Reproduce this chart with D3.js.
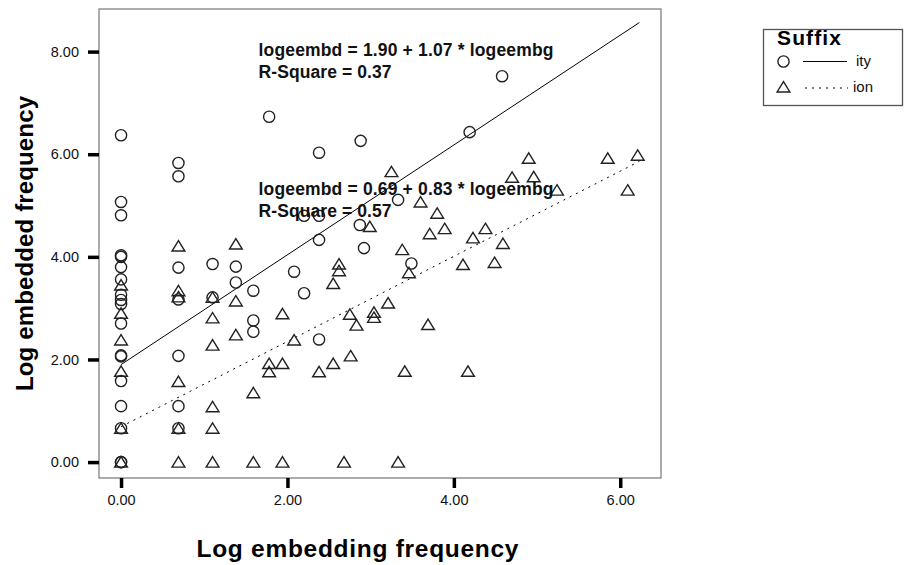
<!DOCTYPE html>
<html lang="en">
<head>
<meta charset="utf-8">
<title>Log embedded vs embedding frequency</title>
<script src="https://cdn.jsdelivr.net/npm/d3@7"></script>
<style>
    body { margin: 0; background: #fff; }
    svg { display: block; font-family: "Liberation Sans", Arial, Helvetica, sans-serif; }
</style>
</head>
<body>
<svg id="chart" width="904" height="565"></svg>
<script>
// suffix -ity (circles)
var ityX = [0, 0, 0, 0, 0, 0, 0, 0, 0, 0, 0, 0, 0, 0, 0, 0, 0, 0,
    0.69, 0.69, 0.69, 0.69, 0.69, 0.69, 0.69, 1.10, 1.10, 1.38, 1.38, 1.59, 1.59, 1.59,
    1.78, 2.08, 2.20, 2.20, 2.38, 2.38, 2.38, 2.38, 2.88, 2.87, 2.92, 3.33, 3.49, 4.19, 4.58]
var ityY = [6.37, 5.07, 4.81, 4.03, 4.00, 3.80, 3.56, 3.26, 3.16, 3.08, 2.70, 2.08, 2.06, 1.58, 1.09, 0.66, 0, 0,
    5.83, 5.57, 3.79, 3.17, 2.07, 1.09, 0.66, 3.86, 3.21, 3.81, 3.50, 3.34, 2.76, 2.54,
    6.73, 3.71, 4.80, 3.29, 6.03, 4.80, 4.33, 2.39, 6.26, 4.62, 4.17, 5.11, 3.87, 6.43, 7.52]

// suffix -ion (triangles)
var ionX = [0, 0, 0, 0, 0, 0, 0.69, 0.69, 0.69, 0.69, 0.69, 0.69, 1.10, 1.10, 1.10, 1.10, 1.10, 1.10,
    1.38, 1.38, 1.38, 1.59, 1.59, 1.78, 1.78, 1.94, 1.94, 1.94, 2.08, 2.38, 2.55, 2.55, 2.62, 2.62,
    2.68, 2.75, 2.76, 2.83, 2.99, 3.04, 3.04, 3.21, 3.25, 3.33, 3.38, 3.41, 3.46, 3.60, 3.69, 3.71,
    3.80, 3.89, 4.11, 4.17, 4.23, 4.38, 4.49, 4.59, 4.70, 4.90, 4.96, 5.24, 5.85, 6.09, 6.21]
var ionY = [3.45, 2.90, 2.38, 1.77, 0.66, 0, 4.21, 3.34, 3.22, 1.57, 0.66, 0, 3.21, 2.81, 2.28, 1.08, 0.66, 0,
    4.25, 3.14, 2.48, 1.35, 0, 1.92, 1.76, 2.89, 1.92, 0, 2.38, 1.76, 3.48, 1.92, 3.86, 3.73,
    0, 2.88, 2.07, 2.67, 4.59, 2.92, 2.82, 3.10, 5.66, 0, 4.14, 1.77, 3.69, 5.07, 2.68, 4.45,
    4.85, 4.55, 3.85, 1.77, 4.37, 4.55, 3.89, 4.26, 5.55, 5.92, 5.56, 5.30, 5.92, 5.30, 5.98]

// fits: [intercept, slope], r-square
var fitIty = [1.90, 1.07]
var fitIon = [0.69, 0.83]
var rSquare = [0.37, 0.57]
var suffixes = ["ity", "ion"]
var xTicks = [0, 2, 4, 6]
var yTicks = [0, 2, 4, 6, 8]

var svg = d3.select("#chart")
var ink = "#222"

var x = d3.scaleLinear().domain([-0.265, 6.49]).range([99, 661])
var y = d3.scaleLinear().domain([-0.31, 8.83]).range([478, 9])

// frame
svg.append("rect").attr("x", 99).attr("y", 9).attr("width", 562).attr("height", 469)
    .attr("fill", "none").attr("stroke", "#808080").attr("stroke-width", 1.3)

// axes
var fmt = d3.format(".2f")
var yAxis = svg.append("g").attr("transform", "translate(99,0)")
    .call(d3.axisLeft(y).tickValues(yTicks).tickFormat(fmt).tickSize(11).tickPadding(9))
var xAxis = svg.append("g").attr("transform", "translate(0,478)")
    .call(d3.axisBottom(x).tickValues(xTicks).tickFormat(fmt).tickSize(10).tickPadding(7))
;[yAxis, xAxis].forEach(function (a) {
    a.select(".domain").remove()
    a.selectAll(".tick line").attr("stroke", "#000").attr("stroke-width", 3.5)
    a.selectAll(".tick text").attr("fill", "#111").style("font-size", "14.5px")
        .style("font-family", "'Liberation Sans', Arial, sans-serif")
})

// axis titles
svg.append("text").attr("x", 357.5).attr("y", 556.5).attr("text-anchor", "middle")
    .attr("textLength", 322).attr("font-size", 24.5).attr("font-weight", "bold").attr("fill", "#000")
    .text("Log embedding frequency")
svg.append("text").attr("transform", "translate(33,243.5) rotate(-90)").attr("text-anchor", "middle")
    .attr("textLength", 295).attr("font-size", 24).attr("font-weight", "bold").attr("fill", "#000")
    .text("Log embedded frequency")

// regression lines
var xMax = d3.max(ityX.concat(ionX)) + 0.02
var line = d3.line().x(function (d) { return x(d[0]) }).y(function (d) { return y(d[1]) })
function fitPts(f) { return [0, xMax].map(function (v) { return [v, f[0] + f[1] * v] }) }
svg.append("path").datum(fitPts(fitIty)).attr("d", line)
    .attr("fill", "none").attr("stroke", "#000").attr("stroke-width", 1)
svg.append("path").datum(fitPts(fitIon)).attr("d", line)
    .attr("fill", "none").attr("stroke", "#000").attr("stroke-width", 1).attr("stroke-dasharray", "2,5")

// markers
var triPath = "M0,-5.4L6.4,5L-6.4,5Z"
svg.append("g").selectAll("circle").data(d3.range(ityX.length)).join("circle")
    .attr("cx", function (i) { return x(ityX[i]) }).attr("cy", function (i) { return y(ityY[i]) })
    .attr("r", 5.6).attr("fill", "none").attr("stroke", ink).attr("stroke-width", 1.4)
svg.append("g").selectAll("path").data(d3.range(ionX.length)).join("path")
    .attr("transform", function (i) { return "translate(" + x(ionX[i]) + "," + y(ionY[i]) + ")" })
    .attr("d", triPath).attr("fill", "none").attr("stroke", ink).attr("stroke-width", 1.4)

// fit labels
function fitLabel(f, r2, top) {
    var g = svg.append("g").attr("font-size", 17.5).attr("font-weight", "bold").attr("fill", "#111")
    g.append("text").attr("x", 258.5).attr("y", top).attr("textLength", 295)
        .text("logeembd = " + fmt(f[0]) + " + " + fmt(f[1]) + " * logeembg")
    g.append("text").attr("x", 258.5).attr("y", top + 22).attr("textLength", 133)
        .text("R-Square = " + fmt(r2))
}
fitLabel(fitIty, rSquare[0], 55.5)
fitLabel(fitIon, rSquare[1], 195)

// legend
var lg = svg.append("g")
lg.append("rect").attr("x", 763.5).attr("y", 29.5).attr("width", 139).attr("height", 76)
    .attr("fill", "#fff").attr("stroke", "#555").attr("stroke-width", 1.3)
lg.append("text").attr("x", 777).attr("y", 44.5).attr("font-size", 21).attr("font-weight", "bold")
    .attr("textLength", 64).attr("fill", "#000").text("Suffix")
lg.append("circle").attr("cx", 783.5).attr("cy", 61.5).attr("r", 5.6)
    .attr("fill", "none").attr("stroke", ink).attr("stroke-width", 1.4)
lg.append("line").attr("x1", 803).attr("x2", 847).attr("y1", 61.5).attr("y2", 61.5)
    .attr("stroke", "#000").attr("stroke-width", 1)
lg.append("path").attr("transform", "translate(783.5,87)").attr("d", triPath)
    .attr("fill", "none").attr("stroke", ink).attr("stroke-width", 1.4)
lg.append("line").attr("x1", 805).attr("x2", 848).attr("y1", 88).attr("y2", 88)
    .attr("stroke", "#000").attr("stroke-width", 1).attr("stroke-dasharray", "2,5")
lg.selectAll("text.key").data(suffixes).join("text").attr("class", "key")
    .attr("x", function (d, i) { return i ? 853 : 856 }).attr("y", function (d, i) { return i ? 91.5 : 66 })
    .attr("font-size", 15).attr("fill", "#111").text(function (d) { return d })
</script>
</body>
</html>
